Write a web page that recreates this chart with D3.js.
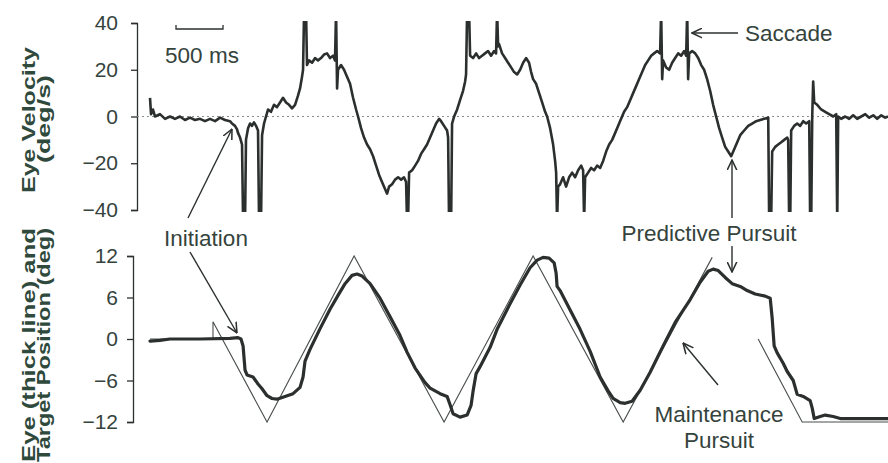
<!DOCTYPE html>
<html><head><meta charset="utf-8">
<script src="https://cdn.jsdelivr.net/npm/d3@7"></script>
<style>
html,body{margin:0;padding:0;background:#fff;}
svg{display:block;font-family:"Liberation Sans",Arial,sans-serif;}
</style></head>
<body><svg id="c" width="888" height="463"></svg>
<script>
// ---- data (time in ms) ----
const velTicks = [40, 20, 0, -20, -40];
const posTicks = [12, 6, 0, -6, -12];
// eye velocity (deg/s); saccades exceed the plotted range and are clipped
const velocity = [
[0,8],[11,1],[32,3],[53,0],[106,1],[160,-1],[213,0],[266,-1],[319,0],[372,-1.5],[426,-0.5],[479,-1.5],[532,-1],[585,-2],[638,-1],[692,-2],[745,-0.5],[798,-1.5],[851,-2],[872,-3],[904,-4],[926,-5.5],[936,-7],[958,-9],
[979,-12],[990,-45],[1011,-45],[1021,-10],[1043,-5],[1064,-3],[1085,-4],[1106,-2.5],[1128,-4],[1149,-6],[1160,-45],[1181,-45],[1192,-8],[1213,-3],[1234,0],[1256,3],[1287,2],[1319,5],[1351,4],[1383,6],[1415,8],[1447,6],[1479,5],[1511,3.5],[1543,5],[1575,9],[1596,12],[1617,17],[1628,20],
[1639,45],[1660,45],[1670,22],[1692,24],[1724,23],[1756,25],[1787,24],[1819,25],[1851,26.5],[1883,27],[1915,25],[1947,26],[1968,24],[1979,45],[1990,12],[2000,20],[2032,22],[2064,20],[2096,17],[2128,14],[2160,8],[2192,3],[2213,0],[2245,-5],[2277,-9],[2309,-12],[2341,-14],[2373,-17],[2405,-21],[2437,-25],[2468,-28],[2500,-31],[2522,-33],[2543,-30],[2575,-29],[2607,-27],[2639,-26],[2671,-27],[2702,-26],[2724,-28],
[2734,-45],[2745,-45],[2756,-24],[2788,-23],[2820,-21],[2851,-19],[2883,-16],[2915,-14],[2947,-12],[2979,-9],[3011,-6],[3043,-3],[3075,-1],[3096,-2],[3128,-4],[3160,-6],[3171,-9],[3181,-45],[3203,-45],[3213,-3],[3235,0],[3267,3],[3298,7],[3330,11],[3352,15],[3362,18],
[3373,45],[3394,45],[3405,26],[3437,25],[3469,27],[3500,25],[3532,26],[3564,27],[3596,28],[3628,26],[3660,28],[3681,27],[3692,45],[3703,30],[3713,31],[3745,27],[3777,25],[3809,23],[3841,21],[3873,19],[3905,18],[3937,20],[3969,23],[4000,25],[4032,23],[4054,19],[4075,16],[4107,14],[4139,10],[4171,6],[4203,2],[4224,0],[4256,-5],[4288,-12],[4309,-19],[4320,-24],
[4330,-45],[4341,-30],[4362,-29],[4394,-26],[4426,-30],[4458,-26],[4490,-24],[4522,-26],[4554,-23],[4586,-21],[4607,-23],[4618,-45],[4628,-26],[4660,-24],[4692,-22],[4724,-23],[4756,-21],[4788,-22],[4820,-19],[4852,-15],[4884,-12],[4916,-10],[4948,-7],[4980,-4],[5011,-1],[5043,2],[5075,4],[5107,7],[5139,10],[5171,13],[5203,16],[5235,19],[5267,22],[5299,24],[5331,26],[5362,27],[5394,28],[5426,27],
[5437,45],[5448,16],[5458,24],[5490,21],[5522,20],[5554,23],[5586,25],[5618,27],[5650,26],[5682,28],[5703,26],[5714,45],[5724,16],[5735,27],[5767,28],[5799,27],[5831,25],[5863,22],[5894,20],[5926,16],[5958,11],[5990,5],[6022,0],[6054,-5],[6086,-9],[6118,-13],[6150,-15],[6182,-17],[6214,-14],[6246,-11],[6278,-8],[6320,-6],[6363,-4],[6405,-3],[6448,-2],[6490,-1.5],[6533,-1],[6576,-0.5],
[6586,-45],[6607,-45],[6618,-15],[6650,-13],[6682,-12],[6714,-11],[6746,-10],[6778,-9],[6788,-10],[6799,-45],[6810,-45],[6820,-6],[6852,-4],[6884,-3],[6916,-4],[6948,-2],[6980,-3],[7012,-2],[7022,-45],[7033,-45],[7044,0],[7054,15],[7065,6],[7097,5],[7139,3],[7182,2],[7224,1],[7267,0],[7299,1],[7310,-45],[7320,0],[7352,-1],[7395,0],[7437,-1],[7480,0.5],[7522,-1],[7565,0],[7608,1],[7650,-0.5],[7693,0.5],[7735,-1],[7778,0.5],[7820,-0.5],[7850,0]
];
// eye position (deg), thick line
const eyePosition = [
[0,-0.3],[106,-0.2],[213,0],[532,0],[851,0.1],[936,0.2],[968,0],[990,-1],[1011,-4.5],[1032,-5.2],[1096,-5.5],[1149,-6.5],[1192,-7.2],[1245,-8.2],[1298,-8.6],[1351,-8.7],[1436,-8.3],[1522,-7.9],[1596,-7.0],[1628,-5.5],[1649,-3.2],[1702,-1.5],[1809,1.5],[1915,4.3],[2000,6.3],[2075,8.0],[2149,9.2],[2202,9.4],[2256,9.1],[2341,8.0],[2447,5.9],[2554,3.2],[2660,0.5],[2734,-1.9],[2820,-4.2],[2926,-6.3],[2979,-7.1],[3086,-7.9],[3160,-8.3],[3192,-9.5],[3224,-10.8],[3298,-11.3],[3373,-11.0],[3415,-9.6],[3437,-7.5],[3469,-5.0],[3511,-4.0],[3618,-1.2],[3692,1.4],[3830,5.1],[3937,7.8],[4043,10.3],[4118,11.4],[4181,11.8],[4245,11.7],[4299,11.0],[4320,9.5],[4330,7.6],[4362,7.0],[4469,4.2],[4575,1.4],[4682,-1.8],[4788,-5.5],[4873,-7.5],[4926,-8.6],[5001,-9.2],[5054,-9.3],[5128,-9.0],[5214,-7.4],[5320,-4.8],[5458,-1],[5586,2.4],[5746,5.7],[5852,8.2],[5937,9.8],[5990,10.1],[6044,9.9],[6118,8.9],[6192,8.0],[6278,7.6],[6352,7.0],[6437,6.5],[6544,6.2],[6597,5.9],[6618,3],[6639,-1],[6671,-2],[6735,-3.5],[6778,-4.7],[6842,-6.0],[6884,-8.0],[6948,-8.3],[7022,-8.9],[7044,-10],[7065,-11.5],[7129,-11.2],[7182,-11.0],[7267,-11.2],[7342,-11.5],[7850,-11.5]
];
// target position (deg), thin line, two segments
const targetSeg1 = [[0,0],[670,0],[670,2.5],[1245,-12],[2171,12],[3128,-12],[4075,12],[5033,-12],[5980,11.8]];
const targetSeg2 = [[6469,0],[6937,-12],[7850,-12]];

// ---- drawing ----
const svg = d3.select("#c");
const ink = "#2b302e", txt = "#35433d", ttl = "#2f4a3c";
const x = d3.scaleLinear().domain([0, 7850]).range([150, 888]);
const yV = d3.scaleLinear().domain([-40, 40]).range([210, 23]);
const yP = d3.scaleLinear().domain([-12, 12]).range([422, 256]);

const defs = svg.append("defs");
defs.append("clipPath").attr("id","clipV").append("rect").attr("x",137).attr("y",21).attr("width",760).attr("height",191);
defs.append("marker").attr("id","arr").attr("viewBox","0 0 10 10").attr("refX",9.5).attr("refY",5)
  .attr("markerWidth",11).attr("markerHeight",11).attr("markerUnits","userSpaceOnUse").attr("orient","auto")
  .append("path").attr("d","M0,0.5 L9.5,5 L0,9.5").attr("fill","none").attr("stroke",ink).attr("stroke-width",1.4);

// axes
function styleAxis(g){
  g.selectAll("path.domain").attr("stroke", ink).attr("stroke-width",1.3);
  g.selectAll(".tick line").attr("stroke", ink).attr("stroke-width",1.3);
  g.selectAll(".tick text").attr("fill", txt).attr("font-size",21).attr("font-family","Liberation Sans, Arial, sans-serif");
}
svg.append("g").attr("transform","translate(137,0)")
  .call(d3.axisLeft(yV).tickValues(velTicks).tickSize(6).tickPadding(13).tickFormat(d3.format("d")))
  .call(styleAxis);
svg.append("g").attr("transform","translate(133,0)")
  .call(d3.axisLeft(yP).tickValues(posTicks).tickSize(6).tickPadding(9).tickFormat(d3.format("d")))
  .call(styleAxis);

// zero line
svg.append("line").attr("x1",137).attr("x2",888).attr("y1",yV(0)).attr("y2",yV(0))
  .attr("stroke","#8a8f8d").attr("stroke-width",1.2).attr("stroke-dasharray","2,3");

// velocity trace
const lineV = d3.line().x(d=>x(d[0])).y(d=>yV(d[1]));
svg.append("path").datum(velocity).attr("d",lineV).attr("clip-path","url(#clipV)")
  .attr("fill","none").attr("stroke",ink).attr("stroke-width",2.6).attr("stroke-linejoin","round");

// position traces
const lineP = d3.line().x(d=>x(d[0])).y(d=>yP(d[1]));
[targetSeg1, targetSeg2].forEach(s=>{
  svg.append("path").datum(s).attr("d",lineP).attr("fill","none").attr("stroke","#4a4f4d").attr("stroke-width",1.1);
});
svg.append("path").datum(eyePosition).attr("d",lineP).attr("fill","none")
  .attr("stroke",ink).attr("stroke-width",3.2).attr("stroke-linejoin","round").attr("stroke-linecap","round");

// axis titles
function vtitle(tx, ty, s, len){
  svg.append("text").attr("transform",`translate(${tx},${ty}) rotate(-90)`).attr("text-anchor","middle")
    .attr("font-size",19).attr("font-weight","bold").attr("fill",ttl)
    .attr("textLength",len).attr("lengthAdjust","spacingAndGlyphs").text(s);
}
vtitle(35,120,"Eye Velocity",146);
vtitle(50,119,"(deg/s)",88);
vtitle(35,345,"Eye (thick line) and",234);
vtitle(50,345,"Target Position (deg)",234);

// annotations
function label(tx,ty,s,anchor){
  svg.append("text").attr("x",tx).attr("y",ty).attr("text-anchor",anchor||"start")
    .attr("font-size",22.5).attr("fill",txt).text(s);
}
function arrow(x1,y1,x2,y2){
  svg.append("line").attr("x1",x1).attr("y1",y1).attr("x2",x2).attr("y2",y2)
    .attr("stroke",ink).attr("stroke-width",1.4).attr("marker-end","url(#arr)");
}
// 500 ms scale bar
svg.append("path").attr("d","M176,25 V29 H223 V25").attr("fill","none").attr("stroke",ink).attr("stroke-width",1.3);
label(202,63,"500 ms","middle");
label(745,41,"Saccade");
arrow(738,33,692,33);
label(206,246,"Initiation","middle");
arrow(188,218,232,129);
arrow(190,252,237,333);
label(709,241,"Predictive Pursuit","middle");
arrow(732,246,732,272);
arrow(732,218,732,160);
label(719,422,"Maintenance","middle");
label(719,448,"Pursuit","middle");
arrow(718,385,683,343);
</script></body></html>
